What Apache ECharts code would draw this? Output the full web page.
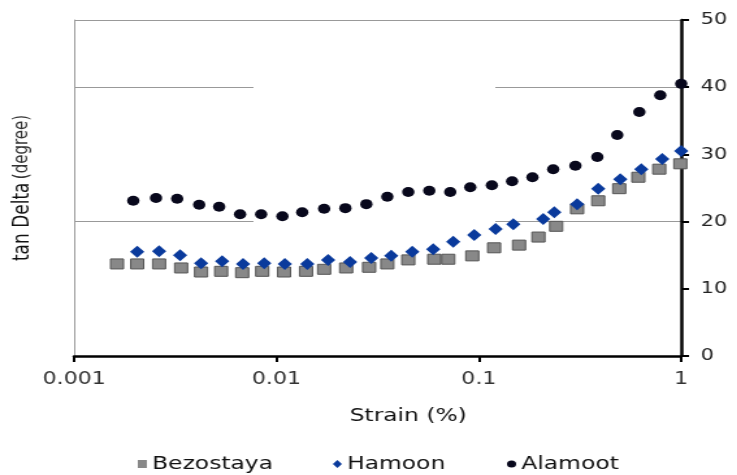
<!DOCTYPE html>
<html>
<head>
<meta charset="utf-8">
<script src="https://cdn.jsdelivr.net/npm/echarts@6/dist/echarts.min.js"></script>
<style>
  html, body { margin: 0; padding: 0; background: #fff; overflow: hidden; }
  /* the source figure is stretched sideways, so draw narrow and widen it */
  #tanChart { width: 567px; height: 475px; transform: scaleX(1.3); transform-origin: 0 0; }
</style>
</head>
<body>
<div id="tanChart"></div>
<script>
  // strain (%) and tan delta (degree)
  var bezoStrain = [0.00163, 0.00205, 0.00263, 0.00338, 0.00424, 0.00533, 0.00677, 0.0085, 0.0109, 0.014,
    0.0172, 0.0221, 0.0287, 0.0353, 0.0448, 0.0602, 0.0706, 0.0928, 0.119, 0.158,
    0.197, 0.241, 0.306, 0.389, 0.494, 0.614, 0.779, 0.99];
  var bezoTan = [13.7, 13.7, 13.7, 13.1, 12.5, 12.6, 12.4, 12.6, 12.5, 12.6,
    12.9, 13.1, 13.2, 13.7, 14.3, 14.4, 14.4, 14.9, 16.1, 16.5,
    17.7, 19.3, 21.9, 23.1, 24.9, 26.6, 27.8, 28.6];

  var hamoonStrain = [0.00205, 0.00263, 0.00334, 0.00424, 0.00539, 0.00684, 0.0087, 0.011, 0.0142, 0.018,
    0.0231, 0.0294, 0.0369, 0.0469, 0.0595, 0.0747, 0.0949, 0.121, 0.148, 0.208,
    0.236, 0.306, 0.389, 0.5, 0.635, 0.806, 1.0];
  var hamoonTan = [15.5, 15.6, 15.0, 13.8, 14.1, 13.7, 13.8, 13.7, 13.7, 14.3,
    14.0, 14.6, 14.9, 15.5, 15.9, 17.0, 18.0, 18.9, 19.6, 20.4,
    21.4, 22.6, 24.9, 26.3, 27.8, 29.3, 30.5];

  var alamootStrain = [0.00196, 0.00254, 0.00323, 0.00415, 0.00521, 0.00661, 0.0084, 0.0107, 0.0134, 0.0172,
    0.0219, 0.0278, 0.0353, 0.0448, 0.0569, 0.0722, 0.0907, 0.116, 0.146, 0.184,
    0.233, 0.3, 0.385, 0.483, 0.621, 0.788, 1.0];
  var alamootTan = [23.1, 23.5, 23.4, 22.5, 22.2, 21.1, 21.1, 20.8, 21.4, 21.9,
    22.0, 22.6, 23.7, 24.4, 24.6, 24.4, 25.1, 25.4, 26.0, 26.6,
    27.8, 28.3, 29.6, 32.9, 36.3, 38.8, 40.5];

  var xTicks = [0.001, 0.01, 0.1, 1];
  var yTicks = [0, 10, 20, 30, 40, 50];

  function pairs(xs, ys) {
    return xs.map(function (x, i) { return [x, ys[i]]; });
  }

  var font = 'DejaVu Sans';
  var chart = echarts.init(document.getElementById('tanChart'));

  chart.setOption({
    animation: false,
    grid: { left: 57, right: 43, top: 20, bottom: 119 },
    xAxis: {
      type: 'log',
      logBase: 10,
      min: xTicks[0],
      max: xTicks[xTicks.length - 1],
      axisLine: { lineStyle: { color: '#000', width: 2.5 } },
      axisTick: { show: true, inside: false, length: 6, lineStyle: { color: '#000', width: 2 } },
      minorTick: { show: false },
      splitLine: { show: false },
      axisLabel: {
        margin: 15,
        color: '#333',
        fontSize: 17,
        fontFamily: font,
        formatter: function (v) { return String(Number(v.toPrecision(3))); }
      }
    },
    yAxis: [{
      type: 'value',
      position: 'right',
      min: yTicks[0],
      max: yTicks[yTicks.length - 1],
      interval: 10,
      axisLine: { show: true, lineStyle: { color: '#000', width: 2.5 } },
      axisTick: { show: true, inside: false, length: 6, lineStyle: { color: '#000', width: 2 } },
      splitLine: { show: false },
      axisLabel: { margin: 15, color: '#222', fontSize: 16, fontFamily: font }
    }, {
      // left side only carries the border, the 20/40 grid lines and the title
      type: 'value',
      position: 'left',
      min: 0,
      max: 50,
      interval: 20,
      axisLine: { show: true, lineStyle: { color: '#999', width: 1 } },
      axisTick: { show: false },
      axisLabel: { show: false },
      splitLine: { show: true, lineStyle: { color: '#999', width: 1 } },
      name: '{a|tan Delta} {b|(degree)}',
      nameLocation: 'middle',
      nameGap: 31,
      nameTextStyle: {
        rich: {
          a: { fontSize: 17, fontFamily: font, color: '#111' },
          b: { fontSize: 15, fontFamily: font, color: '#333' }
        }
      }
    }],
    graphic: [{
      // the scan loses the grid lines in the middle of the plot
      type: 'rect',
      z: 1,
      silent: true,
      shape: { x: 195, y: 21, width: 186, height: 333 },
      style: { fill: '#fff' }
    }, {
      type: 'text',
      x: 314,
      y: 416,
      style: {
        text: 'Strain (%)',
        font: '18px "DejaVu Sans"',
        fill: '#111',
        textAlign: 'center',
        textVerticalAlign: 'middle'
      }
    }],
    legend: [
      { data: [{ name: 'Bezostaya', icon: 'rect' }], left: 106, top: 455 },
      { data: [{ name: 'Hamoon', icon: 'diamond' }], left: 256, top: 455 },
      { data: [{ name: 'Alamoot', icon: 'circle' }], left: 390, top: 455 }
    ].map(function (l) {
      l.padding = 0;
      l.itemWidth = 7;
      l.itemHeight = 8;
      l.itemStyle = { borderWidth: 0 };
      l.textStyle = { fontSize: 18, fontFamily: font, color: '#111', padding: [1, 0, 0, -1] };
      return l;
    }),
    series: [{
      name: 'Bezostaya',
      type: 'scatter',
      clip: false,
      symbol: 'rect',
      symbolSize: [10, 10],
      itemStyle: { color: '#888', borderColor: '#555', borderWidth: 1, opacity: 1 },
      data: pairs(bezoStrain, bezoTan)
    }, {
      name: 'Hamoon',
      type: 'scatter',
      clip: false,
      symbol: 'diamond',
      symbolSize: [11, 12],
      itemStyle: { color: '#0a3a9c', opacity: 1 },
      data: pairs(hamoonStrain, hamoonTan)
    }, {
      name: 'Alamoot',
      type: 'scatter',
      clip: false,
      symbol: 'circle',
      symbolSize: [9.5, 10],
      itemStyle: { color: '#08081c', opacity: 1 },
      data: pairs(alamootStrain, alamootTan)
    }]
  });
</script>
</body>
</html>
